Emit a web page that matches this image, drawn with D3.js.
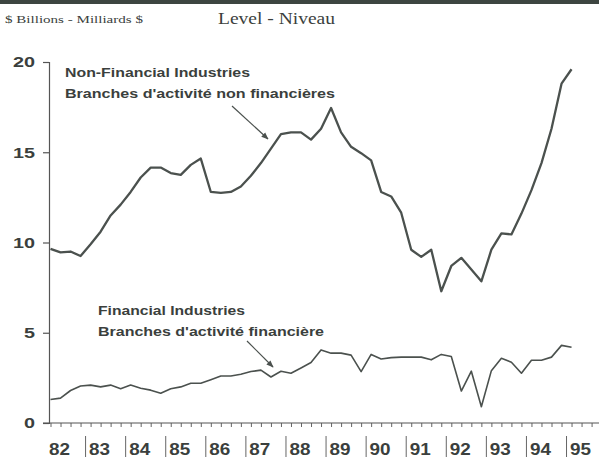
<!DOCTYPE html>
<html>
<head>
<meta charset="utf-8">
<script src="https://cdn.jsdelivr.net/npm/d3@7"></script>
<style>
  body { margin: 0; background: #fff; }
  svg { display: block; }
</style>
</head>
<body>
<div class="chart"></div>
<script>
const WIDTH = 599;
const HEIGHT = 461;

// quarterly, 1982Q1 .. 1995Q1
var years = ["82", "83", "84", "85", "86", "87", "88", "89", "90", "91", "92", "93", "94", "95"];
var yTicks = [0, 5, 10, 15, 20];

var nonFinancial = [
    9.65, 9.45, 9.5, 9.25, 9.9, 10.6, 11.5, 12.1, 12.8, 13.6, 14.15, 14.15, 13.85,
    13.75, 14.3, 14.65, 12.8, 12.75, 12.8, 13.1, 13.7, 14.4, 15.2, 16.0, 16.1, 16.1,
    15.7, 16.3, 17.45, 16.1, 15.3, 14.95, 14.55, 12.8, 12.55, 11.65, 9.6, 9.2, 9.6,
    7.3, 8.7, 9.15, 8.5, 7.85, 9.6, 10.5, 10.45, 11.6, 12.9, 14.4, 16.3, 18.8, 19.6
];

var financial = [
    1.3, 1.38, 1.8, 2.05, 2.1, 2.0, 2.1, 1.9, 2.1, 1.93, 1.82, 1.65, 1.9,
    2.0, 2.2, 2.2, 2.4, 2.6, 2.6, 2.7, 2.85, 2.93, 2.55, 2.87, 2.76, 3.05,
    3.35, 4.05, 3.87, 3.87, 3.76, 2.85, 3.8, 3.55, 3.62, 3.65, 3.65, 3.65, 3.5,
    3.8, 3.68, 1.77, 2.87, 0.9, 2.9, 3.59, 3.37, 2.76, 3.48, 3.48, 3.65, 4.3, 4.2
];

var INK = "#3b3f3d";
var LINE = "#4b514e";

var svg = d3.select(".chart").append("svg")
    .attr("width", WIDTH)
    .attr("height", HEIGHT);

// dark scan border at the top
svg.append("rect")
    .attr("x", 0).attr("y", 0)
    .attr("width", WIDTH).attr("height", 4)
    .attr("fill", "#3d4541");

var x = d3.scaleLinear().domain([0, 1]).range([50.5, 60.52]);
var y = d3.scaleLinear().domain([0, 20]).range([423, 62]);

// header
svg.append("text")
    .attr("x", 5).attr("y", 23)
    .attr("textLength", 138).attr("lengthAdjust", "spacingAndGlyphs")
    .style("font-family", "Liberation Serif, serif")
    .style("font-size", "11px")
    .attr("fill", INK)
    .text("$ Billions - Milliards $");

svg.append("text")
    .attr("x", 218).attr("y", 24)
    .attr("textLength", 117).attr("lengthAdjust", "spacingAndGlyphs")
    .style("font-family", "Liberation Serif, serif")
    .style("font-size", "16px")
    .attr("fill", INK)
    .text("Level - Niveau");

// y axis
var yAxis = d3.axisLeft(y)
    .tickValues(yTicks)
    .tickSize(6)
    .tickPadding(8);

var gy = svg.append("g")
    .attr("transform", "translate(49,0)")
    .call(yAxis);
gy.select(".domain").attr("stroke", "#555").attr("stroke-width", 1.2);
gy.selectAll(".tick line").attr("stroke", "#555").attr("stroke-width", 1.2);
gy.selectAll(".tick text")
    .attr("fill", INK)
    .style("font-family", "Liberation Sans, Arial, sans-serif")
    .style("font-weight", "bold")
    .style("font-size", "15px")
    .attr("textLength", function (d) { return d >= 10 ? 22 : 11; })
    .attr("lengthAdjust", "spacingAndGlyphs");

// x axis: quarter ticks
var quarterIdx = d3.range(0, 55);
var xAxis = d3.axisBottom(x)
    .tickValues(quarterIdx)
    .tickSize(4)
    .tickFormat("");

var gx = svg.append("g")
    .attr("transform", "translate(0,423)")
    .call(xAxis);
gx.select(".domain").remove();
gx.selectAll(".tick line").attr("stroke", "#666").attr("stroke-width", 1);
gx.append("line")
    .attr("x1", 43).attr("x2", WIDTH)
    .attr("stroke", "#555").attr("stroke-width", 1.2);

// year separators and labels
var yearG = svg.append("g").selectAll("g")
    .data(years)
    .enter().append("g");

yearG.filter(function (d, i) { return i > 0; })
    .append("line")
    .attr("x1", function (d, i) { return x((i + 1) * 4 - 0.5); })
    .attr("x2", function (d, i) { return x((i + 1) * 4 - 0.5); })
    .attr("y1", 436).attr("y2", 457)
    .attr("stroke", "#666").attr("stroke-width", 1);

yearG.append("text")
    .attr("x", function (d, i) { return x(i * 4 - 0.5) + 3.5; })
    .attr("y", 455)
    .attr("textLength", 21).attr("lengthAdjust", "spacingAndGlyphs")
    .attr("fill", INK)
    .style("font-family", "Liberation Sans, Arial, sans-serif")
    .style("font-weight", "bold")
    .style("font-size", "16px")
    .text(function (d) { return d; });

// lines
var line = d3.line()
    .x(function (d, i) { return x(i); })
    .y(function (d) { return y(d); });

svg.append("path")
    .datum(financial)
    .attr("d", line)
    .attr("fill", "none")
    .attr("stroke", LINE)
    .attr("stroke-width", 1.6)
    .attr("stroke-linejoin", "round");

svg.append("path")
    .datum(nonFinancial)
    .attr("d", line)
    .attr("fill", "none")
    .attr("stroke", LINE)
    .attr("stroke-width", 2.3)
    .attr("stroke-linejoin", "round");

// annotations
svg.append("defs").append("marker")
    .attr("id", "arrow")
    .attr("viewBox", "0 0 10 10")
    .attr("refX", 9).attr("refY", 5)
    .attr("markerWidth", 6).attr("markerHeight", 6)
    .attr("orient", "auto")
    .append("path")
    .attr("d", "M0,1 L10,5 L0,9 Z")
    .attr("fill", LINE);

var notes = [
    { lines: ["Non-Financial Industries", "Branches d'activité non financières"],
      x: 65, y: 77, widths: [185, 270], arrow: [232, 106, 268, 139] },
    { lines: ["Financial Industries", "Branches d'activité financière"],
      x: 98, y: 315, widths: [147, 226], arrow: [247, 341, 273, 367] }
];

notes.forEach(function (n) {
    n.lines.forEach(function (t, k) {
        svg.append("text")
            .attr("x", n.x).attr("y", n.y + k * 21)
            .attr("textLength", n.widths[k]).attr("lengthAdjust", "spacingAndGlyphs")
            .attr("fill", INK)
            .style("font-family", "Liberation Sans, Arial, sans-serif")
            .style("font-weight", "bold")
            .style("font-size", "12px")
            .text(t);
    });
    svg.append("line")
        .attr("x1", n.arrow[0]).attr("y1", n.arrow[1])
        .attr("x2", n.arrow[2]).attr("y2", n.arrow[3])
        .attr("stroke", LINE).attr("stroke-width", 1.2)
        .attr("marker-end", "url(#arrow)");
});
</script>
</body>
</html>
